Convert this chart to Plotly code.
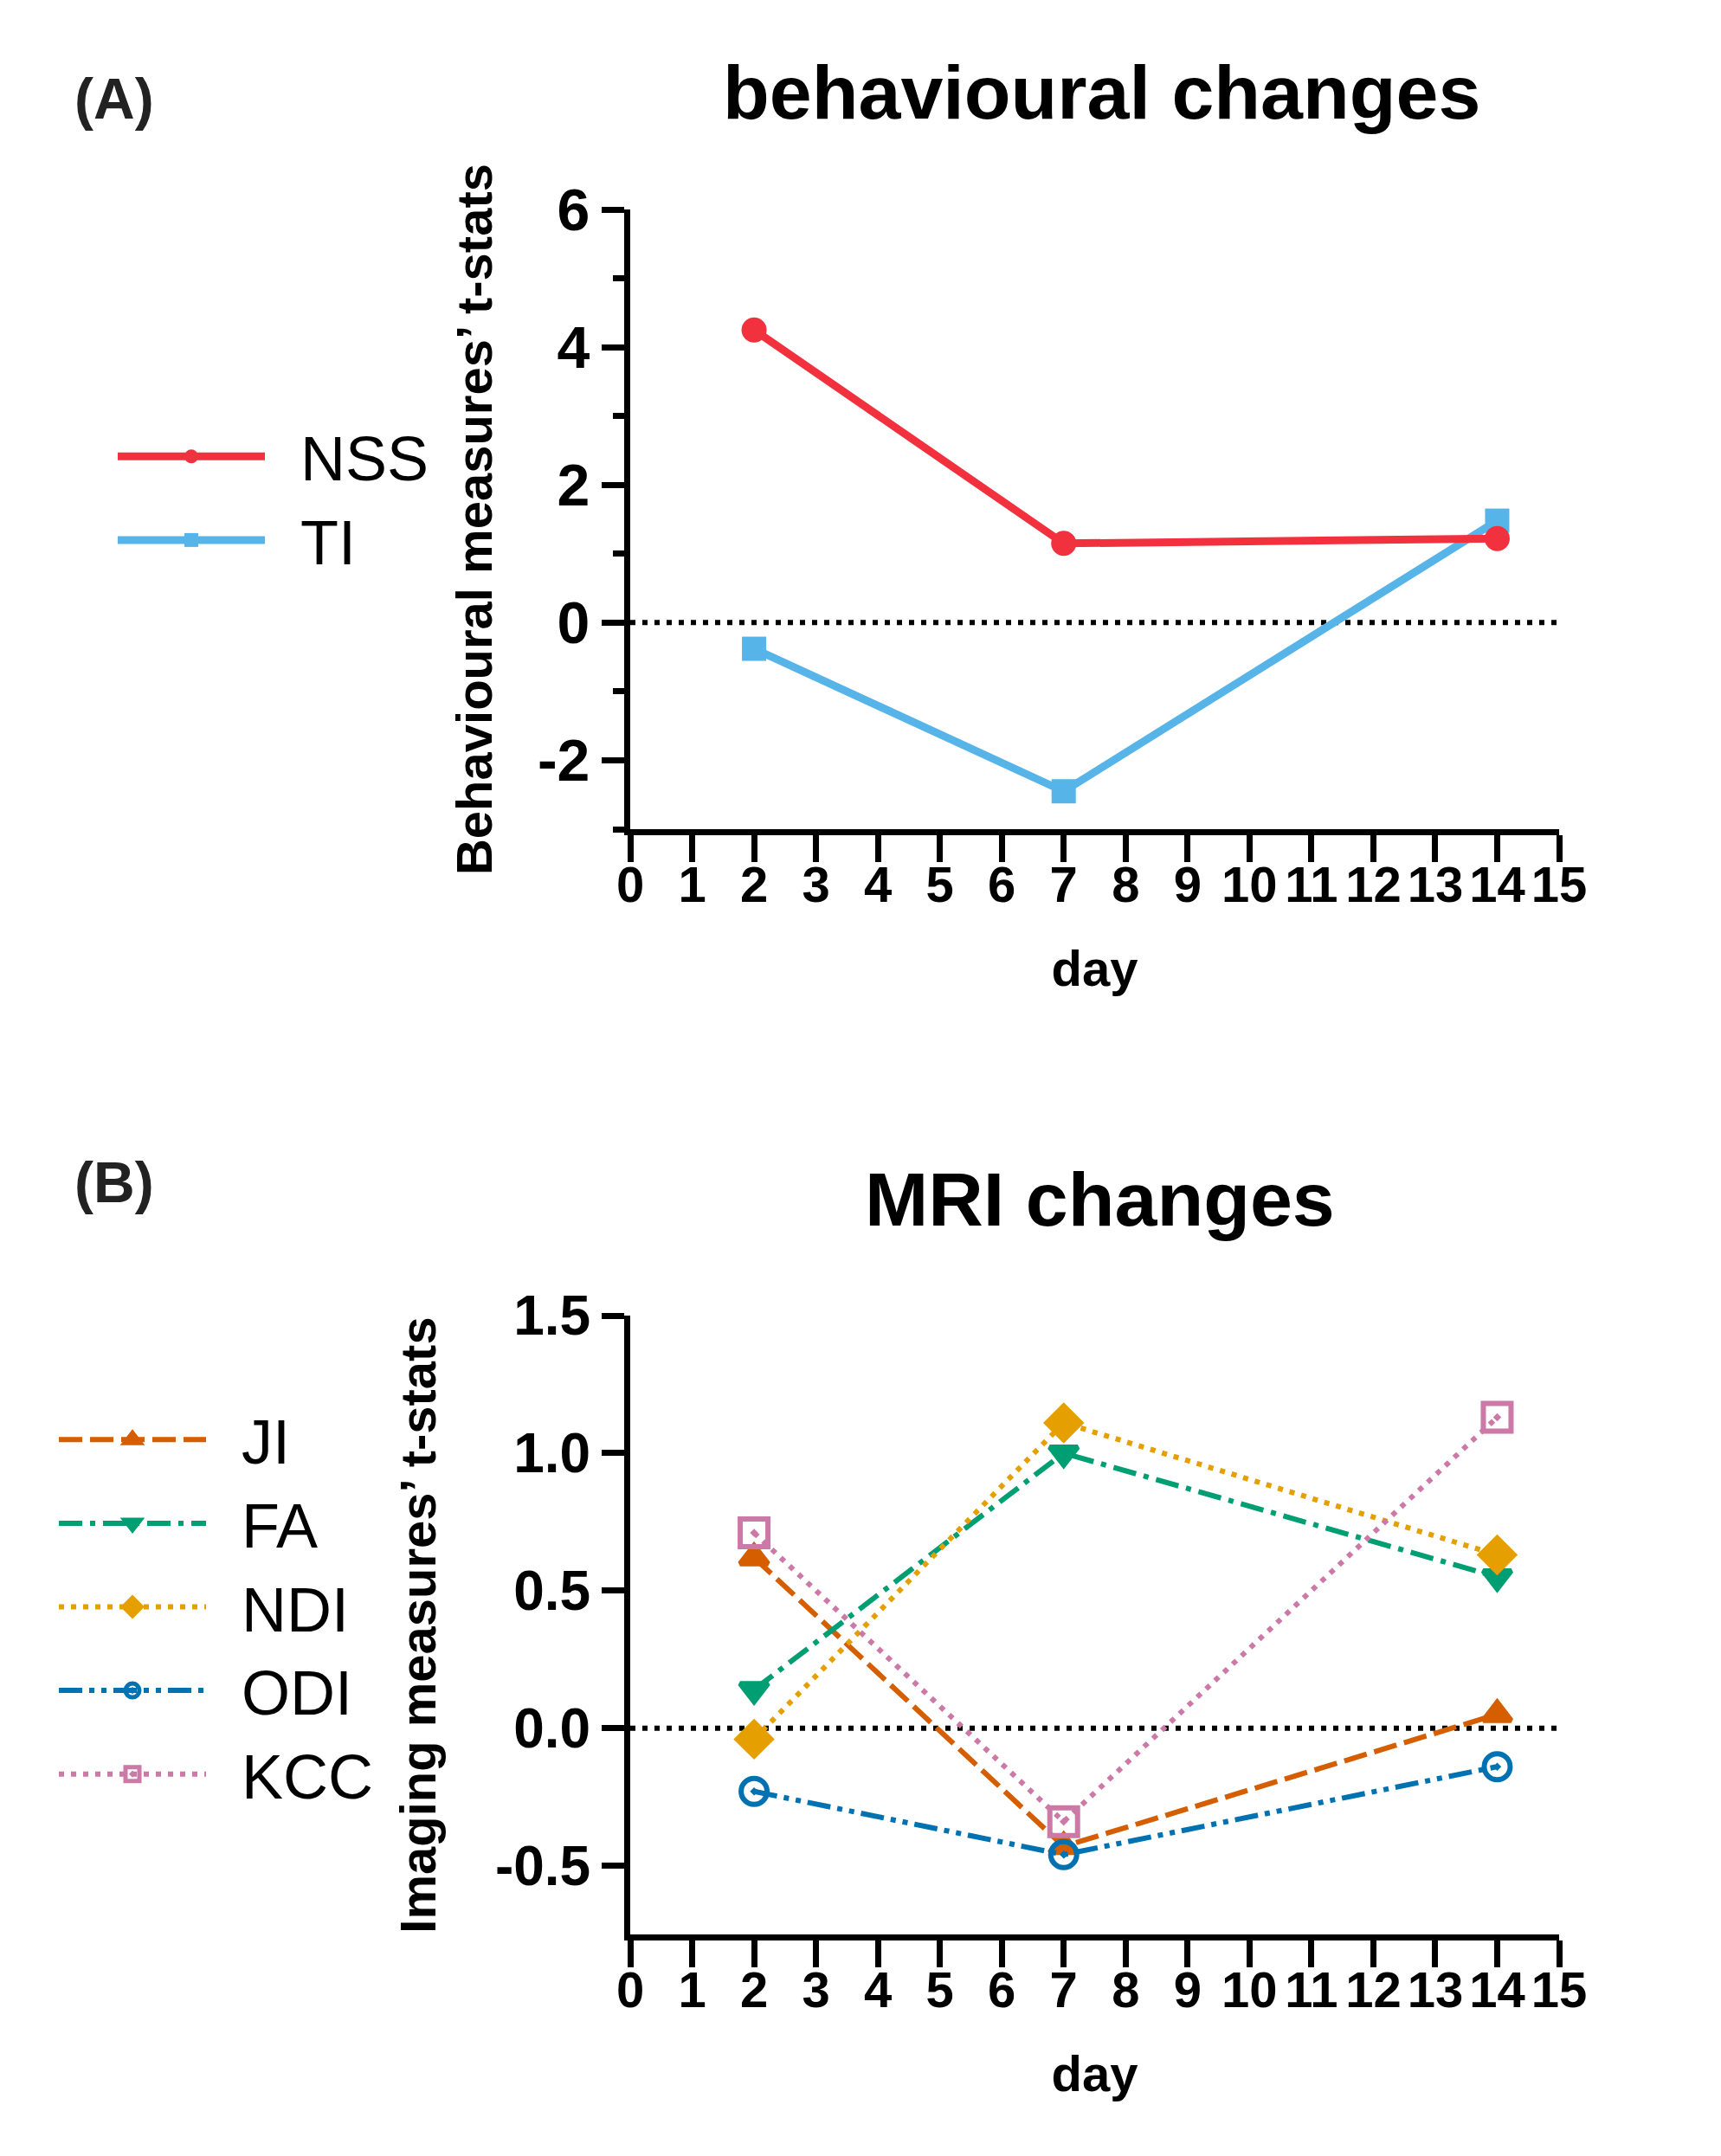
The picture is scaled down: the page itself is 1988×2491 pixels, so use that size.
import plotly.graph_objects as go

### data
days = [2, 7, 14]

# (A) behavioural measures
nss = [4.25, 1.15, 1.22]
ti = [-0.38, -2.45, 1.48]

# (B) imaging measures
ji = [0.62, -0.43, 0.05]
fa = [0.14, 1.00, 0.55]
ndi = [-0.04, 1.11, 0.63]
odi = [-0.23, -0.46, -0.14]
kcc = [0.71, -0.34, 1.13]

x_ticks = list(range(0, 16))
a_yticks = [-2, 0, 2, 4, 6]
b_yticks = [-0.5, 0.0, 0.5, 1.0, 1.5]
b_yticktext = ["-0.5", "0.0", "0.5", "1.0", "1.5"]

### style helpers
FONT = "Liberation Sans, Arial, sans-serif"
W, H = 1988, 2491
GAP = "\u2002"  # a little room between legend symbol and label

def xaxis_style(anchor):
    return dict(
        range=[0, 15], domain=[720 / W, 1793 / W], anchor=anchor, automargin=False,
        showgrid=False, zeroline=False, showline=True, linewidth=7, linecolor="black",
        tickmode="array", tickvals=x_ticks, ticktext=[str(v) for v in x_ticks],
        tickangle=0, ticklabelstandoff=-24,
        ticks="outside", ticklen=31, tickwidth=7, tickcolor="black",
        tickfont=dict(family=FONT, size=58, color="black", weight="bold"),
        title=dict(text="day", standoff=48,
                   font=dict(family=FONT, size=58, color="black", weight="bold")),
    )

def yaxis_style(anchor, rng, dom, tickvals, ticktext, title, ticksize, standoff):
    return dict(
        range=rng, domain=dom, anchor=anchor, automargin=False,
        showgrid=False, zeroline=False, showline=True, linewidth=7, linecolor="black",
        tickmode="array", tickvals=tickvals, ticktext=ticktext,
        ticks="outside", ticklen=26, tickwidth=7, tickcolor="black",
        tickfont=dict(family=FONT, size=ticksize, color="black", weight="bold"),
        title=dict(text=title, standoff=standoff,
                   font=dict(family=FONT, size=58, color="black", weight="bold")),
    )

fig = go.Figure()

### panel A
fig.add_trace(go.Scatter(
    x=days, y=ti, name=GAP + "TI", xaxis="x", yaxis="y", legend="legend", legendrank=2,
    mode="lines+markers", line=dict(color="#56B4E9", width=9),
    marker=dict(symbol="square", size=28, color="#56B4E9")))
fig.add_trace(go.Scatter(
    x=days, y=nss, name=GAP + "NSS", xaxis="x", yaxis="y", legend="legend", legendrank=1,
    mode="lines+markers", line=dict(color="#F2313F", width=9),
    marker=dict(symbol="circle", size=29, color="#F2313F")))

### panel B
b_series = [
    ("JI", ji, "#D55E00", "27px,9px", "triangle-up", 28),
    ("FA", fa, "#009E73", "27px,9px,6px,9px", "triangle-down", 28),
    ("NDI", ndi, "#E69F00", "6px,8px", "diamond", 30),
    ("ODI", odi, "#0072B2", "27px,8px,6px,8px,6px,8px", "circle-open-dot", 30),
    ("KCC", kcc, "#CC79A7", "6px,8px", "square-open-dot", 32),
]
for name, vals, col, dash, sym, ms in b_series:
    fig.add_trace(go.Scatter(
        x=days, y=vals, name=GAP + name, xaxis="x2", yaxis="y2", legend="legend2",
        mode="lines+markers", line=dict(color=col, width=6, dash=dash),
        marker=dict(symbol=sym, size=ms, color=col, line=dict(color=col, width=6))))

### dotted zero lines
for xr, yr in [("x", "y"), ("x2", "y2")]:
    fig.add_shape(type="line", xref=xr, yref=yr, x0=0, x1=15, y0=0, y1=0,
                  line=dict(color="black", width=6, dash="6px,8px"), layer="below")

legend_common = dict(
    font=dict(family=FONT, size=72, color="black"),
    bgcolor="rgba(0,0,0,0)", borderwidth=0, itemwidth=170,
    xanchor="left", yanchor="top", tracegroupgap=0,
)

def label(text, x, y, size, color="black"):
    return dict(text=text, x=x / W, y=1 - y / H, xref="paper", yref="paper",
                xanchor="center", yanchor="middle", showarrow=False,
                font=dict(family=FONT, size=size, color=color, weight="bold"))

fig.update_layout(
    width=W, height=H, margin=dict(l=0, r=0, t=0, b=0),
    paper_bgcolor="white", plot_bgcolor="white",
    xaxis=xaxis_style("y"),
    yaxis=yaxis_style("x", [-3, 6], [1 - 950 / H, 1 - 234 / H], a_yticks,
                      [str(v) for v in a_yticks], "Behavioural measures’ t-stats", 68, 36),
    xaxis2=xaxis_style("y2"),
    yaxis2=yaxis_style("x2", [-0.75, 1.5], [1 - 2227 / H, 1 - 1512 / H], b_yticks,
                       b_yticktext, "Imaging measures’ t-stats", 64, 52),
    legend=dict(x=123 / W, y=1 - 466 / H, **legend_common),
    legend2=dict(x=55 / W, y=1 - 1602 / H, **legend_common),
    annotations=[
        label("behavioural changes", 1264, 99, 88),
        label("MRI changes", 1262, 1377, 88),
        label("(A)", 124, 106, 66, "#222222"),
        label("(B)", 124, 1358, 66, "#222222"),
    ],
    showlegend=True,
)

# minor ticks on the behavioural y axis
fig.update_layout(yaxis_minor=dict(dtick=1, tick0=-3, ticks="outside", ticklen=13,
                                   tickwidth=7, tickcolor="black", showgrid=False))

fig.write_html("out.html")
